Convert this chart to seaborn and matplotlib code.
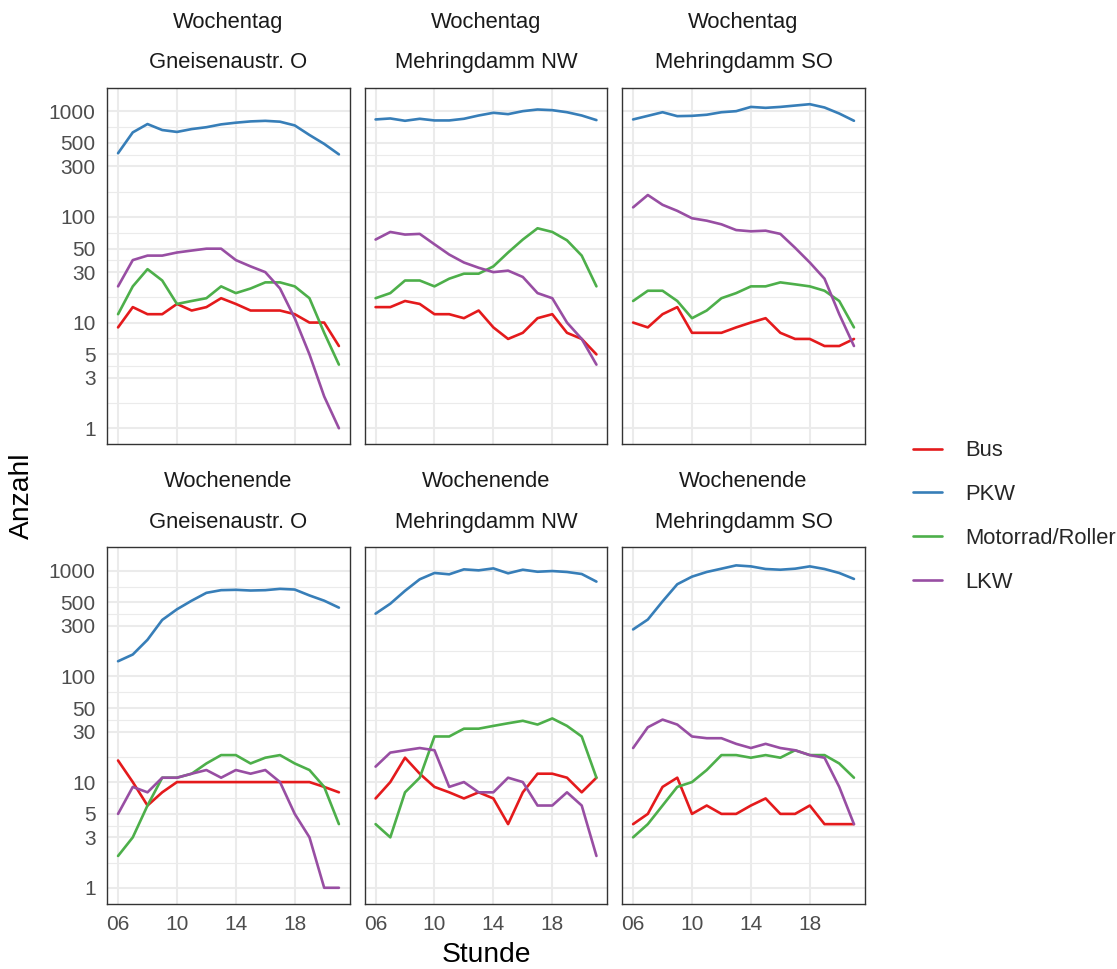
import numpy as np
import pandas as pd
import matplotlib
matplotlib.use("Agg")
import matplotlib.pyplot as plt
from matplotlib.ticker import FixedLocator, FuncFormatter
from matplotlib.lines import Line2D
import seaborn as sns

# Stunden 06..21
hours = list(range(6, 22))
types = ["Bus", "PKW", "Motorrad/Roller", "LKW"]
days = ["Wochentag", "Wochenende"]
places = ["Gneisenaustr. O", "Mehringdamm NW", "Mehringdamm SO"]

# Wochentag
wt_gneis_bus = [9, 14, 12, 12, 15, 13, 14, 17, 15, 13, 13, 13, 12, 10, 10, 6]
wt_gneis_pkw = [400, 630, 755, 663, 636, 677, 705, 750, 778, 800, 810, 795, 733, 595, 490, 390]
wt_gneis_mot = [12, 22, 32, 25, 15, 16, 17, 22, 19, 21, 24, 24, 22, 17, 8, 4]
wt_gneis_lkw = [22, 39, 43, 43, 46, 48, 50, 50, 39, 34, 30, 21, 11, 5, 2, 1]

wt_nw_bus = [14, 14, 16, 15, 12, 12, 11, 13, 9, 7, 8, 11, 12, 8, 7, 5]
wt_nw_pkw = [835, 853, 811, 847, 817, 817, 847, 910, 965, 937, 1000, 1037, 1022, 977, 910, 823]
wt_nw_mot = [17, 19, 25, 25, 22, 26, 29, 29, 34, 46, 61, 78, 72, 60, 43, 22]
wt_nw_lkw = [61, 72, 68, 69, 55, 44, 37, 33, 30, 31, 27, 19, 17, 10, 7, 4]

wt_so_bus = [10, 9, 12, 14, 8, 8, 8, 9, 10, 11, 8, 7, 7, 6, 6, 7]
wt_so_pkw = [835, 903, 977, 897, 903, 925, 977, 1000, 1097, 1075, 1097, 1130, 1164, 1083, 950, 811]
wt_so_mot = [16, 20, 20, 16, 11, 13, 17, 19, 22, 22, 24, 23, 22, 20, 16, 9]
wt_so_lkw = [123, 161, 130, 114, 97, 92, 85, 75, 73, 74, 69, 51, 37, 26, 12, 6]

# Wochenende
we_gneis_bus = [16, 10, 6, 8, 10, 10, 10, 10, 10, 10, 10, 10, 10, 10, 9, 8]
we_gneis_pkw = [139, 161, 222, 342, 431, 520, 617, 654, 659, 649, 654, 673, 663, 583, 520, 447]
we_gneis_mot = [2, 3, 6, 11, 11, 12, 15, 18, 18, 15, 17, 18, 15, 13, 9, 4]
we_gneis_lkw = [5, 9, 8, 11, 11, 12, 13, 11, 13, 12, 13, 10, 5, 3, 1, 1]

we_nw_bus = [7, 10, 17, 12, 9, 8, 7, 8, 7, 4, 8, 12, 12, 11, 8, 11]
we_nw_pkw = [392, 487, 645, 829, 951, 924, 1029, 1007, 1051, 944, 1021, 977, 992, 972, 930, 788]
we_nw_mot = [4, 3, 8, 11, 27, 27, 32, 32, 34, 36, 38, 35, 40, 34, 27, 11]
we_nw_lkw = [14, 19, 20, 21, 20, 9, 10, 8, 8, 11, 10, 6, 6, 8, 6, 2]

we_so_bus = [4, 5, 9, 11, 5, 6, 5, 5, 6, 7, 5, 5, 6, 4, 4, 4]
we_so_pkw = [278, 345, 512, 744, 878, 972, 1044, 1122, 1098, 1037, 1021, 1044, 1098, 1037, 951, 835]
we_so_mot = [3, 4, 6, 9, 10, 13, 18, 18, 17, 18, 17, 20, 18, 18, 15, 11]
we_so_lkw = [21, 33, 39, 35, 27, 26, 26, 23, 21, 23, 21, 20, 18, 17, 9, 4]

series = {
    ("Wochentag", "Gneisenaustr. O"): [wt_gneis_bus, wt_gneis_pkw, wt_gneis_mot, wt_gneis_lkw],
    ("Wochentag", "Mehringdamm NW"): [wt_nw_bus, wt_nw_pkw, wt_nw_mot, wt_nw_lkw],
    ("Wochentag", "Mehringdamm SO"): [wt_so_bus, wt_so_pkw, wt_so_mot, wt_so_lkw],
    ("Wochenende", "Gneisenaustr. O"): [we_gneis_bus, we_gneis_pkw, we_gneis_mot, we_gneis_lkw],
    ("Wochenende", "Mehringdamm NW"): [we_nw_bus, we_nw_pkw, we_nw_mot, we_nw_lkw],
    ("Wochenende", "Mehringdamm SO"): [we_so_bus, we_so_pkw, we_so_mot, we_so_lkw],
}

rows = []
for (day, place), vals in series.items():
    for t, v in zip(types, vals):
        for h, n in zip(hours, v):
            rows.append({"Tag": day, "Ort": place, "Typ": t, "Stunde": h, "Anzahl": n})
df = pd.DataFrame(rows)

colors = ["#E41A1C", "#377EB8", "#4DAF4A", "#984EA3"]
palette = dict(zip(types, colors))

sns.set_style("white")
plt.rcParams["font.family"] = ["Liberation Sans", "DejaVu Sans"]

fs = 15.8
fs_tick = 15.0

fig, axes = plt.subplots(2, 3, figsize=(11.17, 9.69), dpi=100, sharex=True, sharey=True)
fig.subplots_adjust(left=0.0958, right=0.7744, top=0.9092, bottom=0.0671,
                    wspace=0.06, hspace=0.289)

ymin, ymax = np.log10(df["Anzahl"].min()), np.log10(df["Anzahl"].max())
pad = 0.05 * (ymax - ymin)
ylim = (10 ** (ymin - pad), 10 ** (ymax + pad))
ymajor = [1, 3, 5, 10, 30, 50, 100, 300, 500, 1000]
yminor = [np.sqrt(a * b) for a, b in zip(ymajor[:-1], ymajor[1:])]

for i, day in enumerate(days):
    for j, place in enumerate(places):
        ax = axes[i, j]
        sub = df[(df["Tag"] == day) & (df["Ort"] == place)]
        sns.lineplot(data=sub, x="Stunde", y="Anzahl", hue="Typ", hue_order=types,
                     palette=palette, ax=ax, legend=False, linewidth=1.9)
        ax.set_yscale("log")
        ax.set_ylim(ylim)
        ax.set_xlim(5.25, 21.75)
        ax.yaxis.set_major_locator(FixedLocator(ymajor))
        ax.yaxis.set_minor_locator(FixedLocator(yminor))
        ax.yaxis.set_major_formatter(FuncFormatter(lambda v, p: f"{v:g}"))
        ax.set_xticks([6, 10, 14, 18])
        ax.set_xticklabels(["06", "10", "14", "18"])
        ax.set_axisbelow(True)
        ax.grid(which="major", color="#EBEBEB", linewidth=1.5)
        ax.grid(which="minor", axis="y", color="#EBEBEB", linewidth=0.8)
        ax.tick_params(which="minor", length=0)
        ax.tick_params(which="major", length=5, width=1, color="#333333",
                       labelsize=fs_tick, labelcolor="#4D4D4D", pad=3.2)
        if j > 0:
            ax.tick_params(axis="y", which="major", length=0)
        if i == 0:
            ax.tick_params(axis="x", which="major", length=0)
        for s in ax.spines.values():
            s.set_color("#333333")
            s.set_linewidth(1)
        ax.set_xlabel("")
        ax.set_ylabel("")
        ax.annotate(day, xy=(0.5, 1), xycoords="axes fraction", xytext=(0, 47.5),
                    textcoords="offset points", ha="center", va="center",
                    fontsize=fs, color="#1A1A1A")
        ax.annotate(place, xy=(0.5, 1), xycoords="axes fraction", xytext=(0, 18),
                    textcoords="offset points", ha="center", va="center",
                    fontsize=fs, color="#1A1A1A")

fig.text(22 / 1117, 1 - 496 / 969, "Anzahl", rotation=90, ha="center", va="center",
         fontsize=20.3, color="black")
fig.text(486 / 1117, 1 - 955 / 969, "Stunde", ha="center", va="center",
         fontsize=20.3, color="black")

handles = [Line2D([], [], color=c, linewidth=1.9) for c in colors]
fig.legend(handles, types, loc="center left", bbox_to_anchor=(913 / 1117, 1 - 516.5 / 969),
           frameon=False, fontsize=fs, handlelength=1.32, handletextpad=1.05,
           labelspacing=1.04, borderpad=0, borderaxespad=0)

fig.savefig("out.png", dpi=100)
